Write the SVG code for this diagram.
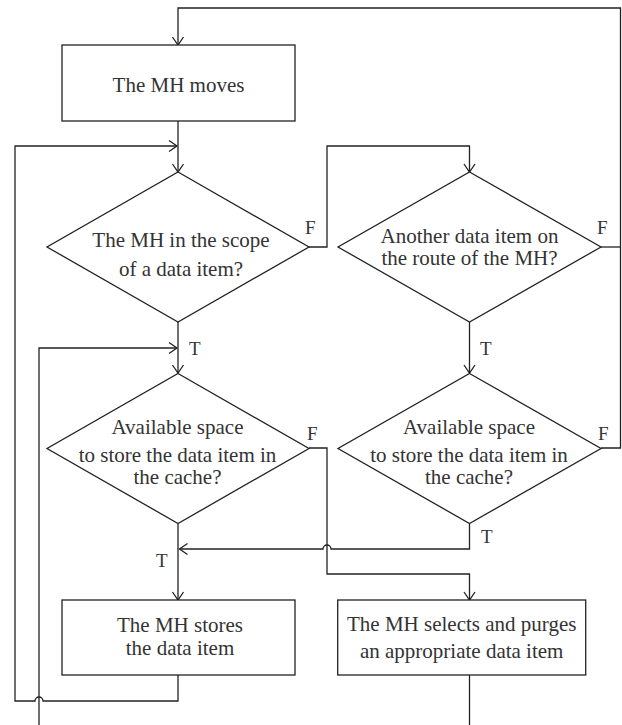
<svg xmlns="http://www.w3.org/2000/svg" width="622" height="725" viewBox="0 0 622 725">
<style>
.n{fill:#fff;stroke:#222;stroke-width:1.3}
.c{fill:none;stroke:#222;stroke-width:1.3}
.t{font-family:"Liberation Serif",serif;font-size:21px;fill:#333;text-anchor:middle}
.l{font-family:"Liberation Serif",serif;font-size:19px;fill:#333}
</style>
<defs>
<marker id="a" markerUnits="userSpaceOnUse" markerWidth="12" markerHeight="14" refX="0" refY="0" viewBox="-10 -7 12 14" orient="auto">
<path d="M-8,-5.5 L0,0 L-8,5.5" fill="none" stroke="#222" stroke-width="1.3"/>
</marker>
</defs>
<rect width="622" height="725" fill="#fff"/>
<g id="connectors">
<path class="c" d="M601,448 H620.5 V8 H178 V45" marker-end="url(#a)"/>
<path class="c" d="M601,247 H620.5"/>
<path class="c" d="M178,121 V172" marker-end="url(#a)"/>
<path class="c" d="M178,675 V701 H43 A4,4 0 0 0 35,701 H15 V146 H177" marker-end="url(#a)"/>
<path class="c" d="M309,247 H327 V146 H469.5 V172" marker-end="url(#a)"/>
<path class="c" d="M178,322 V373" marker-end="url(#a)"/>
<path class="c" d="M39,725 V348 H177" marker-end="url(#a)"/>
<path class="c" d="M469.5,322 V373" marker-end="url(#a)"/>
<path class="c" d="M178,524 V600" marker-end="url(#a)"/>
<path class="c" d="M469.5,524 V549 H331 A4,4 0 0 0 323,549 H179.5" marker-end="url(#a)"/>
<path class="c" d="M309,448 H327 V574 H469.5 V600" marker-end="url(#a)"/>
<path class="c" d="M469.5,675 V725"/>
</g>
<g id="moves">
<rect class="n" x="62" y="45" width="233" height="76"/>
<text class="t" x="178.5" y="92">The MH moves</text>
</g>
<g id="scope">
<polygon class="n" points="178,172 309,247 178,322 47,247"/>
<text class="t" x="181" y="247">The MH in the scope</text>
<text class="t" x="181" y="275.5">of a data item?</text>
</g>
<g id="another">
<polygon class="n" points="469.5,172 601,247 469.5,322 338,247"/>
<text class="t" x="469.5" y="243">Another data item on</text>
<text class="t" x="469.5" y="265">the route of the MH?</text>
</g>
<g id="space1">
<polygon class="n" points="178,373.5 309,448.5 178,523.5 47,448.5"/>
<text class="t" x="177.5" y="434">Available space</text>
<text class="t" x="177.5" y="461.5">to store the data item in</text>
<text class="t" x="177.5" y="483.5">the cache?</text>
</g>
<g id="space2">
<polygon class="n" points="469.5,373.5 601,448.5 469.5,523.5 338,448.5"/>
<text class="t" x="469" y="434">Available space</text>
<text class="t" x="469" y="461.5">to store the data item in</text>
<text class="t" x="469" y="483.5">the cache?</text>
</g>
<g id="stores">
<rect class="n" x="62" y="600" width="233" height="75"/>
<text class="t" x="180" y="631.5">The MH stores</text>
<text class="t" x="180" y="654.5">the data item</text>
</g>
<g id="purges">
<rect class="n" x="337.7" y="600" width="248" height="75"/>
<text class="t" x="461.7" y="630.5">The MH selects and purges</text>
<text class="t" x="461.7" y="658">an appropriate data item</text>
</g>
<g id="labels">
<text class="l" x="305" y="234">F</text>
<text class="l" x="597" y="234">F</text>
<text class="l" x="189" y="355">T</text>
<text class="l" x="480" y="355">T</text>
<text class="l" x="307" y="440">F</text>
<text class="l" x="598" y="440">F</text>
<text class="l" x="481" y="543">T</text>
<text class="l" x="156" y="567">T</text>
</g>
</svg>
